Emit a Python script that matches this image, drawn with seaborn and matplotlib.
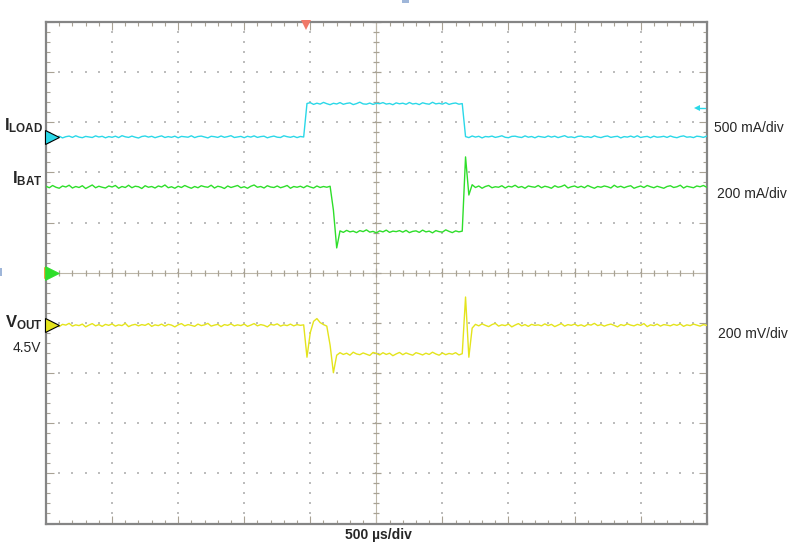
import numpy as np
import pandas as pd
import matplotlib
matplotlib.use("Agg")
import matplotlib.pyplot as plt
import seaborn as sns
from matplotlib.collections import LineCollection
from matplotlib.patches import Rectangle

# ---------------- data ----------------
sample_us = 25  # sample interval of the captured record, µs

i_load_ma = [
    4, -6, 9, -3, 7, -10, 2, 8, -5, 11, -2, -8, 5, 0, -6, 10, -1, 6, -9, 3,
    -4, 7, -7, 12, 1, -5, 8, -3, -11, 4, 9, -2, 6, -8, 2, 10, -6, 3, -4, 7,
    -9, 5, 1, -3, 11, -7, 4, 8, -1, -10, 6, 2, -5, 9, -4, 3, 12, -6, 0, 5,
    -8, 6, -2, 10, -5, 3, 7, -9, 1, 8, -3, -6, 11, 2, -4, 6, -7, 4, -1,
    333, 341, 324, 336, 327, 344, 331, 321, 335, 328, 342, 325, 334, 339, 322, 332, 346, 329, 326, 337,
    324, 335, 331, 342, 327, 333, 321, 339, 330, 336, 325, 343, 328, 334, 322, 340, 331, 326, 345, 329,
    335, 327, 341, 324, 333, 338, 326, 332,
    3, -7, 9, -2, 6, -10, 4, 0, 8, -5, 2, 11, -4, -8, 5, 7, -1, -6, 10, -3,
    4, -9, 6, 1, -5, 9, -2, 7, -7, 3, 12, -4, 0, -8, 5, 8, -3, 2, -6, 10,
    -1, -7, 4, 9, -5, 2, 6, -10, 3, -2, 8, -4, 11, -6, 1, 5, -8, 7, -3, 0,
    6, -5, 9, -2, -8, 4, 10, -3, 1, -7, 7, 3, -5, 8,
]

i_bat_ma = [
    345, 339, 348, 341, 337, 346, 342, 349, 338, 344, 340, 347, 336, 343, 350, 339, 345, 341, 338, 346,
    342, 348, 337, 344, 340, 349, 339, 345, 343, 336, 347, 341, 344, 338, 346, 342, 350, 339, 343, 337,
    345, 340, 348, 342, 337, 344, 339, 347, 343, 341, 349, 338, 345, 342, 336, 346, 340, 344, 348, 339,
    343, 337, 345, 350, 341, 344, 338, 347, 342, 340, 346, 339, 343, 348, 337, 344, 341, 345, 339, 347,
    342, 338, 346, 340, 344, 341, 345,
    250, 99,
    167, 161, 169, 163, 166, 160, 168, 164, 171, 162, 165, 159, 167, 163, 170, 161, 166, 164, 168,
    162, 169, 160, 165, 167, 161, 170, 163, 166, 159, 168, 164, 162, 171, 165, 160, 167, 163, 166,
    462, 310,
    351, 340, 346, 337, 344, 348, 339, 343, 341, 347, 338, 345, 342, 349, 340, 344, 337, 346, 343, 341,
    348, 339, 345, 342, 337, 347, 341, 344, 350, 338, 343, 346, 340, 345, 339, 348, 342, 337, 344, 341,
    346, 343, 338, 349, 341, 345, 339, 344, 347, 337, 342, 346, 340, 348, 343, 339, 345, 341, 337, 344,
    347, 340, 343, 349, 338, 345, 342, 339, 346, 343, 348, 341,
]

v_out_mv = [
    4502, 4497, 4505, 4499, 4494, 4503, 4500, 4507, 4496, 4501, 4498, 4504, 4493, 4500, 4506, 4497, 4502, 4495, 4503, 4499,
    4505, 4496, 4501, 4498, 4507, 4494, 4500, 4503, 4497, 4502, 4499, 4506, 4495, 4501, 4498, 4504, 4496, 4503, 4500, 4493,
    4501, 4506, 4497, 4502, 4499, 4495, 4504, 4498, 4501, 4507, 4496, 4500, 4503, 4494, 4502, 4499, 4505, 4497, 4501, 4498,
    4504, 4495, 4500, 4506, 4497, 4502, 4499, 4493, 4503, 4500, 4505, 4496, 4501, 4498, 4504, 4497, 4502, 4499, 4501,
    4372, 4470, 4515, 4526, 4510, 4502, 4496, 4420, 4310, 4380,
    4390, 4383, 4388, 4380, 4392, 4385, 4382, 4389, 4384, 4379, 4391, 4387, 4381, 4390, 4383, 4388, 4378, 4385, 4391, 4382,
    4389, 4384, 4380, 4390, 4386, 4381, 4388, 4383, 4392, 4385, 4380, 4389, 4382, 4387, 4384, 4390, 4381, 4386,
    4612, 4372,
    4488, 4503, 4497, 4505, 4499, 4494, 4502, 4507, 4496, 4501, 4498, 4504, 4493, 4500, 4506, 4497, 4502, 4495, 4503, 4499,
    4501, 4497, 4505, 4498, 4503, 4494, 4500, 4506, 4496, 4502, 4499, 4504, 4497, 4501, 4495, 4503, 4500, 4507, 4498, 4502,
    4496, 4501, 4504, 4499, 4493, 4502, 4498, 4505, 4500, 4497, 4503, 4499, 4506, 4494, 4501, 4498, 4504, 4496, 4502, 4500,
    4497, 4503, 4499, 4505, 4495, 4501, 4498, 4504, 4500, 4496, 4502, 4499,
]

channel_labels = [r"$\mathbf{I_{LOAD}}$", r"$\mathbf{I_{BAT}}$", r"$\mathbf{V_{OUT}}$"]
scale_labels = ["500 mA/div", "200 mA/div", "200 mV/div"]
time_label = "500 µs/div"
ref_label = "4.5V"
trigger_time_us = 1967

# ---------------- scope settings (scale / offset in divisions) ----------------
iload_per_div, iload_offset = 500.0, 2.709
ibat_per_div, ibat_offset = 200.0, 0.0
vout_per_div, vout_ref, vout_offset = 200.0, 4500.0, -1.044

CYAN, GREEN, YELLOW = "#2ad8e8", "#2ede2a", "#e4e41c"

t = np.arange(len(i_load_ma)) * sample_us
df = pd.concat([
    pd.DataFrame({"t": t, "div": iload_offset + np.array(i_load_ma) / iload_per_div, "ch": "ILOAD"}),
    pd.DataFrame({"t": t, "div": ibat_offset + np.array(i_bat_ma) / ibat_per_div, "ch": "IBAT"}),
    pd.DataFrame({"t": t, "div": vout_offset + (np.array(v_out_mv) - vout_ref) / vout_per_div, "ch": "VOUT"}),
])

# ---------------- figure ----------------
sns.set_style("white")
plt.rcParams["font.family"] = ["Liberation Sans", "DejaVu Sans"]
plt.rcParams["mathtext.fontset"] = "custom"
plt.rcParams["mathtext.rm"] = "Liberation Sans"
plt.rcParams["mathtext.bf"] = "Liberation Sans:bold"
plt.rcParams["mathtext.it"] = "Liberation Sans:italic"

W, H = 809, 545
fig = plt.figure(figsize=(W / 100, H / 100), dpi=100)
L, R, T, B = 46, 706.7, 22, 523.5
ax = fig.add_axes([L / W, 1 - B / H, (R - L) / W, (B - T) / H])
ax.set_xlim(0, 5000)
ax.set_ylim(-5, 5)

tick_col = "#a8a294"
dot_col = "#bdbdbd"
for s in ax.spines.values():
    s.set_color("#858585")
    s.set_linewidth(1.6)
ax.set_xticks(np.arange(0, 5001, 500))
ax.set_xticks(np.arange(0, 5001, 100), minor=True)
ax.set_yticks(np.arange(-5, 6, 1))
ax.set_yticks(np.arange(-5, 5.01, 0.2), minor=True)
ax.tick_params(which="both", direction="in", top=True, right=True, bottom=True, left=True,
               labelbottom=False, labelleft=False, color=tick_col, width=0.8)
ax.tick_params(which="major", length=6)
ax.tick_params(which="minor", length=3)

# dotted graticule
xs_minor = np.arange(0, 5001, 100)
ys_minor = np.arange(-5, 5.01, 0.2)
gx, gy = [], []
for k in range(1, 10):
    if k == 5:
        continue
    gx += [k * 500] * len(ys_minor)
    gy += list(ys_minor)
for j in range(-4, 5):
    if j == 0:
        continue
    gx += list(xs_minor)
    gy += [j] * len(xs_minor)
ax.scatter(gx, gy, s=1.6, marker="s", color=dot_col, linewidths=0, zorder=1)

# centre crosshair with tick marks
ax.axvline(2500, color="#bdb7a9", lw=0.8, zorder=1)
ax.axhline(0, color="#bdb7a9", lw=0.8, zorder=1)
segs = []
for i, y in enumerate(ys_minor):
    w = 32 if i % 5 == 0 else 22
    segs.append([(2500 - w, y), (2500 + w, y)])
for i, x in enumerate(xs_minor):
    h = 0.09 if i % 5 == 0 else 0.06
    segs.append([(x, -h), (x, h)])
ax.add_collection(LineCollection(segs, colors=tick_col, linewidths=0.9, zorder=1))

# traces
sns.lineplot(data=df, x="t", y="div", hue="ch", palette={"ILOAD": CYAN, "IBAT": GREEN, "VOUT": YELLOW},
             estimator=None, legend=False, linewidth=1.0, ax=ax, zorder=3)
ax.set_xlabel("")
ax.set_ylabel("")

# channel reference markers
ax.plot(30, 0, marker=">", ms=9, color="#f0a040", mew=0, clip_on=False, zorder=4)
ax.plot(45, iload_offset, marker=">", ms=10, color=CYAN, mec="black", mew=0.8, clip_on=False, zorder=5)
ax.plot(45, ibat_offset, marker=">", ms=10, color=GREEN, mec=GREEN, mew=0.5, clip_on=False, zorder=5)
ax.plot(45, vout_offset, marker=">", ms=10, color=YELLOW, mec="black", mew=0.8, clip_on=False, zorder=5)
# trigger position and level
ax.plot(trigger_time_us, 4.94, marker="v", ms=7.5, color="#f07868", mew=0, clip_on=False, zorder=6)
ax.plot([4930, 4990], [3.287, 3.287], color=CYAN, lw=1.0, clip_on=False, zorder=5)
ax.plot(4930, 3.287, marker="<", ms=4, color=CYAN, mew=0, clip_on=False, zorder=5)

# small blue marks at the edges of the screen capture
fig.patches.append(Rectangle((402 / W, 1 - 3 / H), 7 / W, 3 / H, transform=fig.transFigure,
                             color="#9fb6d9", lw=0))
fig.patches.append(Rectangle((0, 1 - 276 / H), 2 / W, 8 / H, transform=fig.transFigure,
                             color="#9fb6d9", lw=0))

def fx(px):
    return px / W

def fy(py):
    return 1 - py / H

# left labels
fig.text(fx(43), fy(130), channel_labels[0], ha="right", va="baseline", fontsize=12)
fig.text(fx(43), fy(183), channel_labels[1], ha="right", va="baseline", fontsize=12)
fig.text(fx(43), fy(327), channel_labels[2], ha="right", va="baseline", fontsize=12)
fig.text(fx(41), fy(352), ref_label, ha="right", va="baseline", fontsize=10)
# right labels
fig.text(fx(714), fy(132), scale_labels[0], ha="left", va="baseline", fontsize=10)
fig.text(fx(717), fy(198), scale_labels[1], ha="left", va="baseline", fontsize=10)
fig.text(fx(718), fy(338), scale_labels[2], ha="left", va="baseline", fontsize=10)
# bottom label
fig.text(fx(378), fy(539), time_label, ha="center", va="baseline", fontsize=10, fontweight="bold")

fig.savefig("out.png", dpi=100)
